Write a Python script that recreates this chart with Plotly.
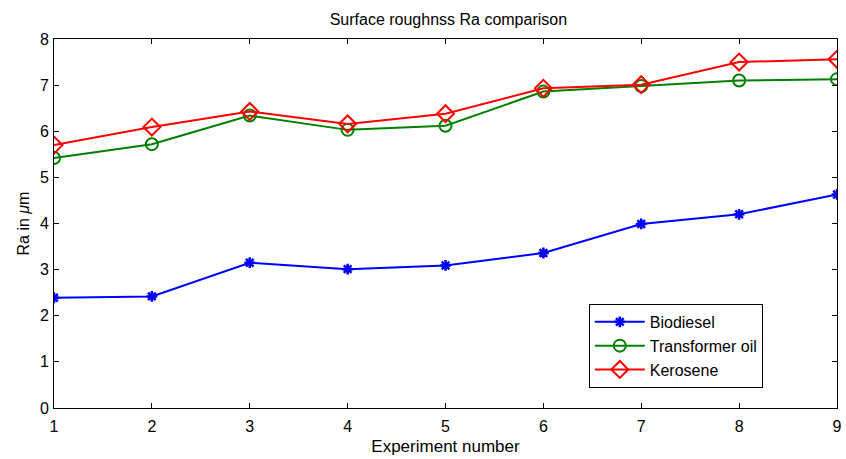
import plotly.graph_objects as go

experiments = [1, 2, 3, 4, 5, 6, 7, 8, 9]
biodiesel = [2.39, 2.42, 3.15, 3.01, 3.09, 3.36, 3.99, 4.20, 4.63]
transformer_oil = [5.42, 5.72, 6.34, 6.03, 6.12, 6.86, 6.98, 7.10, 7.13]
kerosene = [5.70, 6.09, 6.43, 6.16, 6.38, 6.93, 7.01, 7.50, 7.56]

font = "Liberation Sans, Arial, sans-serif"

fig = go.Figure()
fig.add_trace(go.Scatter(x=experiments, y=biodiesel, mode="lines+markers", name="Biodiesel",
                         line=dict(color="#0000ff", width=2),
                         marker=dict(symbol="asterisk-open", size=9, color="#0000ff",
                                     line=dict(color="#0000ff", width=2.5))))
fig.add_trace(go.Scatter(x=experiments, y=transformer_oil, mode="lines+markers", name="Transformer oil",
                         line=dict(color="#008000", width=2),
                         marker=dict(symbol="circle-open", size=12, color="#008000",
                                     line=dict(color="#008000", width=2))))
fig.add_trace(go.Scatter(x=experiments, y=kerosene, mode="lines+markers", name="Kerosene",
                         line=dict(color="#ff0000", width=2),
                         marker=dict(symbol="diamond-open", size=13, color="#ff0000",
                                     line=dict(color="#ff0000", width=2))))

axis_common = dict(showline=True, linecolor="black", linewidth=1, mirror="ticks",
                   ticks="inside", ticklen=5, tickcolor="black", showgrid=False,
                   zeroline=False, automargin=False,
                   tickfont=dict(family=font, size=16, color="black"))

fig.update_layout(
    width=846, height=459,
    paper_bgcolor="white", plot_bgcolor="white",
    margin=dict(l=54, r=9, t=39, b=51, autoexpand=False),
    title=dict(text="Surface roughnss Ra comparison", x=0.53, xanchor="center",
               y=1 - 19 / 459, yanchor="middle", automargin=False,
               font=dict(family=font, size=16, color="black")),
    xaxis=dict(range=[1, 9], tickvals=experiments, ticklabelstandoff=4,
               title=dict(text="Experiment number", standoff=5,
                          font=dict(family=font, size=17, color="black")),
               **axis_common),
    yaxis=dict(range=[0, 8], tickvals=[0, 1, 2, 3, 4, 5, 6, 7, 8], ticklabelstandoff=1,
               title=dict(text="Ra in <i>μ</i>m", standoff=6,
                          font=dict(family=font, size=16, color="black")),
               **axis_common),
    legend=dict(x=0.683, y=0.282, xanchor="left", yanchor="top",
                bgcolor="white", bordercolor="black", borderwidth=1,
                font=dict(family=font, size=16, color="black"),
                entrywidth=150, entrywidthmode="pixels",
                itemwidth=50, tracegroupgap=2),
    showlegend=True,
)

fig.write_html("out.html", config={"displayModeBar": False},
               post_script="document.body.style.margin='0';document.body.style.overflow='hidden';")
